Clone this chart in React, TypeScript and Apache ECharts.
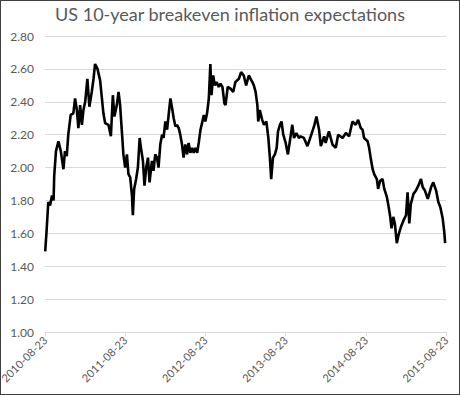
import React, { useEffect, useRef } from "react";
import * as echarts from "echarts";

// days since 2010-08-23
const daysSinceStart: number[] = [
  1, 7, 15, 23, 32, 39, 42, 50, 61, 72, 84, 91, 99, 106, 117, 129, 137, 145, 152, 160,
  168, 175, 183, 193, 202, 213, 221, 228, 239, 251, 266, 274, 289, 300, 309, 316, 327, 335, 342, 350,
  357, 365, 373, 380, 388, 396, 400, 406, 415, 423, 431, 437, 446, 453, 461, 469, 476, 487, 494, 502,
  510, 517, 525, 533, 540, 548, 556, 563, 571, 579, 586, 594, 601, 609, 616, 624, 631, 639, 647, 654,
  662, 670, 677, 685, 693, 700, 708, 715, 723, 730, 738, 746, 753, 758, 766, 773, 781, 791, 799, 808,
  817, 822, 832, 845, 857, 867, 883, 893, 905, 916, 928, 944, 951, 959, 967, 971, 978, 989, 997, 1008,
  1017, 1024, 1030, 1038, 1047, 1055, 1061, 1070, 1077, 1085, 1096, 1106, 1115, 1126, 1134, 1145, 1156, 1164, 1179, 1195,
  1210, 1225, 1236, 1248, 1256, 1271, 1278, 1293, 1309, 1324, 1335, 1355, 1370, 1385, 1400, 1415, 1426, 1438, 1446, 1453,
  1469, 1476, 1484, 1492, 1499, 1511, 1517, 1526, 1537, 1545, 1557, 1565, 1572, 1578, 1586, 1593, 1602, 1610, 1621, 1633,
  1644, 1651, 1659, 1666, 1678, 1689, 1700, 1712, 1720, 1730, 1743, 1758, 1768, 1781, 1791, 1800, 1811, 1818, 1822,
];

// 10-year breakeven inflation rate (%)
const breakeven: number[] = [
  1.49, 1.61, 1.79, 1.77, 1.83, 1.80, 1.95, 2.10, 2.16, 2.10, 1.99, 2.10, 2.07, 2.20, 2.32, 2.33, 2.42, 2.35, 2.24, 2.38,
  2.26, 2.35, 2.40, 2.54, 2.37, 2.46, 2.54, 2.63, 2.60, 2.53, 2.33, 2.27, 2.26, 2.19, 2.44, 2.31, 2.38, 2.46, 2.38, 2.22,
  2.08, 2.00, 2.08, 1.96, 1.94, 1.83, 1.71, 1.87, 1.93, 2.00, 2.18, 2.12, 2.04, 1.89, 2.00, 2.06, 1.91, 2.04, 1.98, 2.08,
  2.06, 2.00, 2.14, 2.20, 2.18, 2.28, 2.23, 2.32, 2.42, 2.36, 2.30, 2.25, 2.26, 2.24, 2.20, 2.14, 2.06, 2.14, 2.08, 2.15,
  2.09, 2.12, 2.09, 2.12, 2.09, 2.15, 2.23, 2.27, 2.32, 2.28, 2.33, 2.42, 2.63, 2.44, 2.56, 2.50, 2.52, 2.49, 2.51, 2.49,
  2.39, 2.38, 2.49, 2.48, 2.46, 2.52, 2.54, 2.58, 2.56, 2.50, 2.56, 2.52, 2.50, 2.46, 2.38, 2.28, 2.35, 2.29, 2.26, 2.28,
  2.18, 2.06, 1.93, 2.06, 2.08, 2.12, 2.22, 2.26, 2.28, 2.20, 2.15, 2.08, 2.16, 2.26, 2.18, 2.21, 2.18, 2.19, 2.18, 2.13,
  2.19, 2.25, 2.31, 2.23, 2.13, 2.19, 2.15, 2.22, 2.14, 2.12, 2.20, 2.18, 2.21, 2.19, 2.28, 2.26, 2.29, 2.24, 2.23, 2.18,
  2.16, 2.12, 2.05, 1.99, 1.96, 1.93, 1.87, 1.92, 1.93, 1.87, 1.82, 1.76, 1.70, 1.63, 1.70, 1.66, 1.54, 1.59, 1.64, 1.68,
  1.71, 1.85, 1.66, 1.78, 1.84, 1.86, 1.89, 1.93, 1.88, 1.86, 1.81, 1.88, 1.91, 1.86, 1.79, 1.76, 1.69, 1.61, 1.54,
];

const startYear = 2010;
const labelSuffix = "-08-23";
const daysPerYear = 365.2;
const yTicks = { min: 1.0, max: 2.8, step: 0.2 };

export default function App() {
  const ref = useRef<HTMLDivElement>(null);
  useEffect(() => {
    document.body.style.margin = "0";
    if (!ref.current) return;
    const chart = echarts.init(ref.current, undefined, { renderer: "svg" });
    const data = daysSinceStart.map((d, i) => [d, breakeven[i]]);
    chart.setOption({
      animation: false,
      backgroundColor: "#ffffff",
      title: {
        text: "US 10-year breakeven inflation expectations",
        left: "center",
        top: 0,
        textStyle: {
          fontFamily: "Lato",
          fontSize: 18,
          fontWeight: "normal",
          color: "#595959",
        },
      },
      grid: {
        left: 45,
        right: 14,
        top: 36,
        bottom: 63,
        containLabel: false,
        outerBoundsMode: "none",
      },
      xAxis: {
        type: "value",
        min: 0,
        max: daysPerYear * 5,
        interval: daysPerYear,
        axisLine: { show: true, lineStyle: { color: "#d9d9d9", width: 1 } },
        axisTick: { show: true, length: 4, lineStyle: { color: "#d9d9d9" } },
        splitLine: { show: false },
        axisLabel: {
          rotate: 45,
          margin: 6,
          fontFamily: "Lato",
          fontSize: 11,
          color: "#595959",
          showMinLabel: true,
          showMaxLabel: true,
          hideOverlap: false,
          formatter: (v: number) => `${startYear + Math.round(v / daysPerYear)}${labelSuffix}`,
        },
      },
      yAxis: {
        type: "value",
        min: yTicks.min,
        max: yTicks.max,
        interval: yTicks.step,
        axisLine: { show: false },
        axisTick: { show: false },
        splitLine: { lineStyle: { color: "#d9d9d9", width: 1 } },
        axisLabel: {
          margin: 11,
          fontFamily: "Lato",
          fontSize: 12,
          color: "#595959",
          formatter: (v: number) => v.toFixed(2),
        },
      },
      series: [
        {
          type: "line",
          data,
          showSymbol: false,
          lineStyle: { color: "#000000", width: 2.6 },
          itemStyle: { color: "#000000" },
        },
      ],
    });
    return () => chart.dispose();
  }, []);
  return (
    <div style={{ position: "relative", width: 460, height: 395 }}>
      <div ref={ref} style={{ position: "absolute", left: 0, top: 0, width: 460, height: 395 }} />
      <div
        style={{
          position: "absolute",
          left: 0,
          top: 0,
          width: 460,
          height: 395,
          boxSizing: "border-box",
          border: "1px solid #404040",
          pointerEvents: "none",
        }}
      />
    </div>
  );
}
